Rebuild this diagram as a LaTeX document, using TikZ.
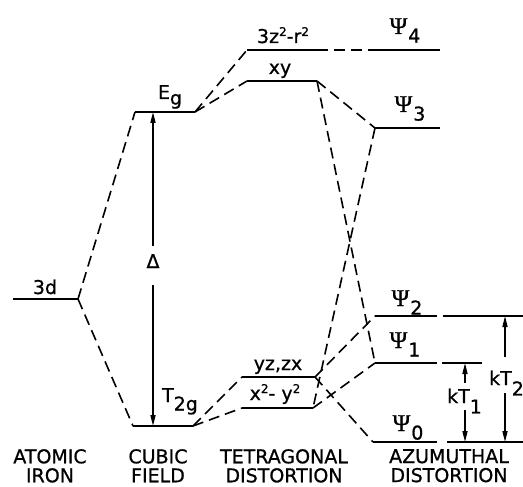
\documentclass[tikz,border=0pt]{standalone}
\usepackage[no-math]{fontspec}
\setmainfont{DejaVu Sans}[FakeBold=0.8]
\newfontfamily\psifont{Liberation Serif}[FakeBold=0.8]
\usetikzlibrary{arrows.meta,positioning}

\newcommand{\lowr}[2][0.4em]{\raisebox{-#1}{#2}}
\newcommand{\supr}[1]{\raisebox{7pt}{\fontsize{12}{12}\selectfont #1}}
\newcommand{\psil}[1]{{\psifont\fontsize{24}{24}\selectfont Ψ}\kern1pt\lowr[0.45em]{#1}}

\begin{document}
\begin{tikzpicture}[
    x=1pt, y=-1pt,
    orbital/.style={line width=2.6pt},
    guide/.style={line width=1.3pt},
    link/.style={line width=1.6pt, dash pattern=on 11pt off 6pt},
    arrow/.style={-{Triangle[length=11pt,width=5pt]}, line width=1.3pt},
    tag/.style={font=\fontsize{19}{19}\selectfont, inner sep=0pt, anchor=base},
    stage/.style={font=\fontsize{19}{19}\selectfont, align=center, inner sep=0pt, anchor=north}
]
\useasboundingbox (0,0) rectangle (523,487);

% Level end points
\coordinate (d-l) at (13,299);   \coordinate (d-r) at (78,299);
\coordinate (eg-l) at (135,112); \coordinate (eg-r) at (195,112);
\coordinate (tg-l) at (133,426); \coordinate (tg-r) at (193,426);
\coordinate (zz-l) at (247,50);  \coordinate (zz-r) at (317,50);
\coordinate (xy-l) at (247,81);  \coordinate (xy-r) at (317,81);
\coordinate (yz-l) at (242,377); \coordinate (yz-r) at (315,377);
\coordinate (xx-l) at (242,408); \coordinate (xx-r) at (313,408);
\coordinate (p4-l) at (373,50);  \coordinate (p4-r) at (440,50);
\coordinate (p3-l) at (375,128); \coordinate (p3-r) at (440,128);
\coordinate (p2-l) at (375,316); \coordinate (p2-r) at (437,316);
\coordinate (p1-l) at (375,363); \coordinate (p1-r) at (437,363);
\coordinate (p0-l) at (373,442); \coordinate (p0-r) at (437,442);

% Levels
\foreach \a in {d,eg,tg,zz,xy,yz,xx,p4,p3,p2,p1,p0}
    \draw[orbital] (\a-l) -- (\a-r);

% Guide lines for kT
\coordinate (g2-l) at (443,316); \coordinate (g2-r) at (523,316);
\coordinate (g1-l) at (442,363); \coordinate (g1-r) at (482,363);
\coordinate (g0-l) at (447,442); \coordinate (g0-r) at (523,442);
\foreach \a in {g2,g1,g0}
    \draw[guide] (\a-l) -- (\a-r);

% Correlation lines
\draw[link] (d-r) -- (eg-l);
\draw[link] (d-r) -- (tg-l);
\draw[link] (eg-r) -- (zz-l);
\draw[link] (eg-r) -- (xy-l);
\draw[link] (tg-r) -- (yz-l);
\draw[link] (tg-r) -- (xx-l);
\draw[link] (zz-r) -- (p4-l);
\draw[link] (xy-r) -- (p3-l);
\draw[link] (xy-r) -- (p1-l);
\draw[link] (p3-l) -- (xx-r);
\draw[link] (yz-r) -- (p2-l);
\draw[link] (yz-r) -- (p0-l);
\draw[link] (xx-r) -- (p1-l);

% Level labels
\node[tag] (d)  at (45,294)  {3d};
\node[tag] (eg) at (170,99)  {E\lowr[0.3em]{g}};
\node[tag] (tg) at (180,402) {T\lowr[0.45em]{2g}};
\node[tag] (zz) at (283,43)  {3z\supr{2}-r\supr{2}};
\node[tag] (xy) at (280,74)  {xy};
\node[tag] (yz) at (278,370) {yz,zx};
\node[tag] (xx) at (275,400) {x\supr{2}- y\supr{2}};
\node[tag] (p4) at (405,34)  {\psil{4}};
\node[tag] (p3) at (410,112) {\psil{3}};
\node[tag] (p2) at (407,306) {\psil{2}};
\node[tag] (p1) at (405,348) {\psil{1}};
\node[tag] (p0) at (408,431) {\psil{0}};

% Splitting arrows
\node[tag, inner ysep=8pt, text depth=9pt] (delta) at (153,268) {Δ};
\draw[arrow] (delta) -- (delta |- eg-l);
\draw[arrow] (delta) -- (delta |- tg-l);

\coordinate (k1-hi) at (465,363); \coordinate (k1-lo) at (465,442);
\node[tag, anchor=base west, inner ysep=7pt, text height=13pt, text depth=0pt] (kT1) at (447,403) {kT\lowr[0.55em]{1}};
\draw[arrow] (kT1.north -| k1-hi) -- (k1-hi);
\draw[arrow] (kT1.south -| k1-lo) -- (k1-lo);

\coordinate (k2-hi) at (505,316); \coordinate (k2-lo) at (505,442);
\node[tag, anchor=base west, inner ysep=8pt, text height=20pt, text depth=0pt] (kT2) at (489,385) {kT\lowr[0.55em]{2}};
\draw[arrow] (kT2.north -| k2-hi) -- (k2-hi);
\draw[arrow] (kT2.south -| k2-lo) -- (k2-lo);

% Stage names
\node[stage] (atomic) at (50,449)  {ATOMIC\\IRON};
\node[stage] (cubic)  at (158,449) {CUBIC\\FIELD};
\node[stage] (tetra)  at (284,449) {TETRAGONAL\\DISTORTION};
\node[stage] (azim)   at (449,449) {AZUMUTHAL\\DISTORTION};

\end{tikzpicture}
\end{document}
